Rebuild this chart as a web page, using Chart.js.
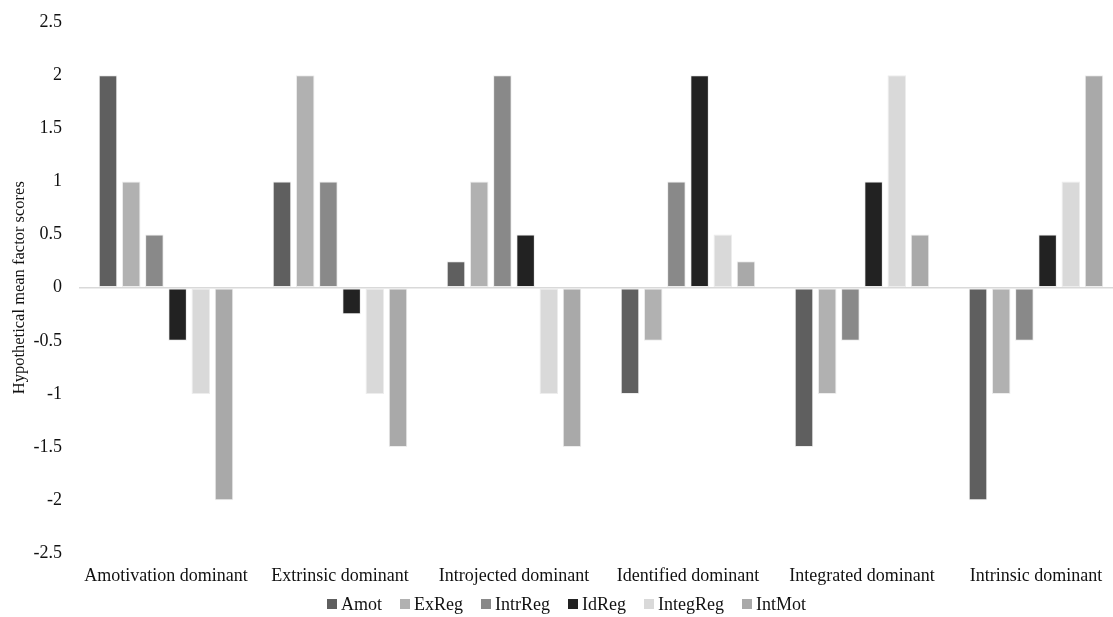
<!DOCTYPE html>
<html>
<head>
<meta charset="utf-8">
<script src="https://cdn.jsdelivr.net/npm/chart.js@4.4.1/dist/chart.umd.min.js"></script>
<style>
  html, body { margin: 0; padding: 0; background: #fff; overflow: hidden; }
  #wrap { position: relative; width: 1123px; height: 617px; }
  #plot { position: absolute; left: 0; top: 0; width: 1123px; height: 599px; }
  #legend {
    position: absolute; left: 0; top: 593px; width: 1133px; height: 22px;
    display: flex; justify-content: center; align-items: center;
    font-family: 'Liberation Serif', 'Times New Roman', serif; font-size: 18px; color: #111;
  }
  #legend .item { display: flex; align-items: center; margin: 0 9px; white-space: nowrap; }
  #legend .box { width: 10px; height: 10px; margin-right: 4px; }
</style>
</head>
<body>
<div id="wrap">
  <div id="plot"><canvas id="chart"></canvas></div>
  <div id="legend"></div>
</div>
<script>
// Profile groups (x categories)
const categories = [
  'Amotivation dominant', 'Extrinsic dominant', 'Introjected dominant',
  'Identified dominant', 'Integrated dominant', 'Intrinsic dominant'
];

// Hypothetical mean factor scores per motivation type
const amot     = [2, 1, 0.25, -1, -1.5, -2];
const exReg    = [1, 2, 1, -0.5, -1, -1];
const intrReg  = [0.5, 1, 2, 1, -0.5, -0.5];
const idReg    = [-0.5, -0.25, 0.5, 2, 1, 0.5];
const integReg = [-1, -1, -1, 0.5, 2, 1];
const intMot   = [-2, -1.5, -1.5, 0.25, 0.5, 2];

const seriesNames = ['Amot', 'ExReg', 'IntrReg', 'IdReg', 'IntegReg', 'IntMot'];
const seriesValues = [amot, exReg, intrReg, idReg, integReg, intMot];
const seriesColors = ['#5f5f5f', '#b1b1b1', '#898989', '#222222', '#d9d9d9', '#a9a9a9'];

const yMin = -2.5, yMax = 2.5, yStep = 0.5;

const serif = "'Liberation Serif', 'Times New Roman', serif";

const chart = new Chart(document.getElementById('chart'), {
  type: 'bar',
  data: {
    labels: categories,
    datasets: seriesNames.map((name, i) => ({
      label: name,
      data: seriesValues[i],
      backgroundColor: seriesColors[i],
      borderColor: 'rgba(235,235,235,0.9)',
      borderWidth: 1,
      borderSkipped: false,
      categoryPercentage: 0.8,
      barPercentage: 0.8
    }))
  },
  options: {
    responsive: true,
    maintainAspectRatio: false,
    animation: false,
    layout: { padding: { top: 22, right: 0, bottom: 0, left: 0 } },
    plugins: {
      tooltip: { enabled: false },
      legend: { display: false }
    },
    scales: {
      x: {
        grid: { display: false, drawTicks: false },
        border: { display: false },
        ticks: {
          font: { family: serif, size: 18 },
          color: '#111',
          padding: 12,
          maxRotation: 0,
          autoSkip: false
        }
      },
      y: {
        min: yMin,
        max: yMax,
        afterFit: (scale) => { scale.width = 79; },
        border: { display: false },
        grid: {
          drawTicks: true,
          tickLength: 17,
          tickColor: 'rgba(0,0,0,0)',
          color: (ctx) => (ctx.tick && ctx.tick.value === 0 ? '#d9d9d9' : 'rgba(0,0,0,0)'),
          lineWidth: 1.5
        },
        ticks: {
          stepSize: yStep,
          font: { family: serif, size: 18 },
          color: '#111',
          padding: 0,
          callback: (v) => String(Math.round(v * 10) / 10)
        },
        title: {
          display: true,
          text: 'Hypothetical mean factor scores',
          font: { family: serif, size: 16.5 },
          color: '#111',
          padding: { top: 10, bottom: 0 }
        }
      }
    }
  }
});

// Series key below the plot, built from the chart's own datasets
const legendEl = document.getElementById('legend');
chart.data.datasets.forEach((ds) => {
  const item = document.createElement('span');
  item.className = 'item';
  const box = document.createElement('span');
  box.className = 'box';
  box.style.background = ds.backgroundColor;
  const text = document.createElement('span');
  text.textContent = ds.label;
  item.appendChild(box);
  item.appendChild(text);
  legendEl.appendChild(item);
});
</script>
</body>
</html>
